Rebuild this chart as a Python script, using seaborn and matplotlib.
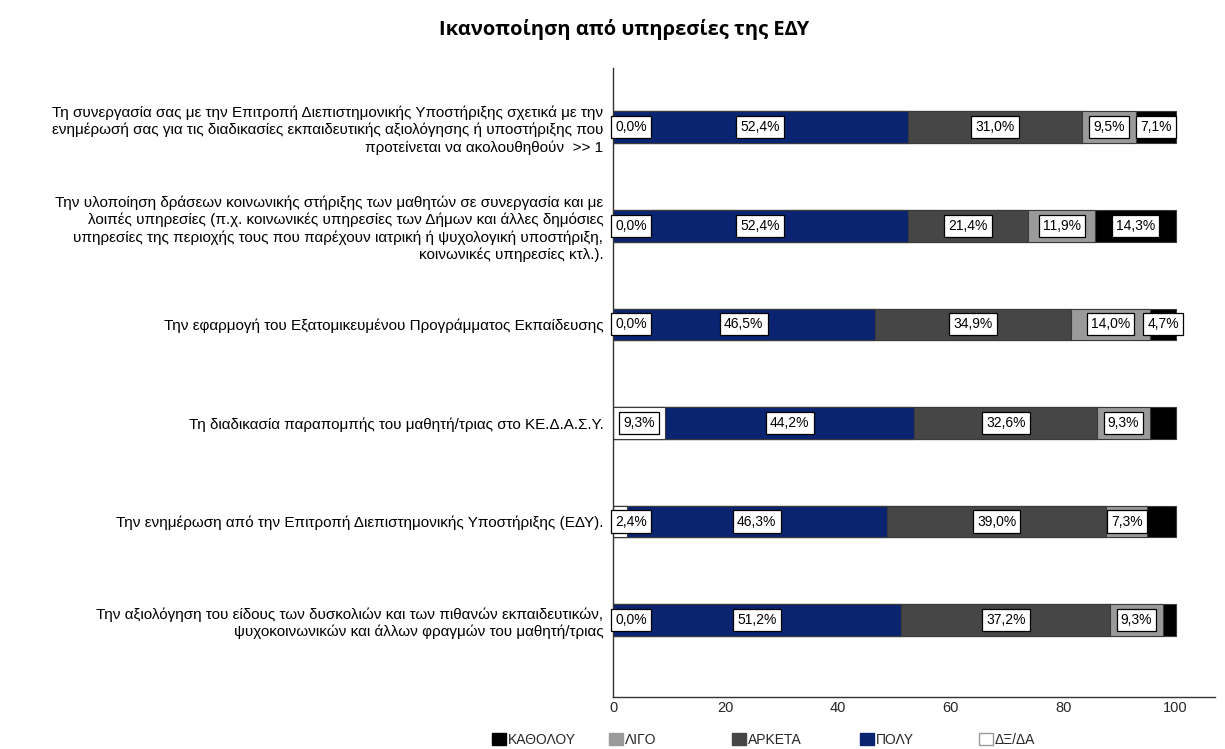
import matplotlib
matplotlib.use("Agg")
import matplotlib.pyplot as plt
from matplotlib.patches import Patch
import seaborn as sns
import pandas as pd
import numpy as np

# ---------------- data ----------------
questions = [
    "Τη συνεργασία σας με την Επιτροπή Διεπιστημονικής Υποστήριξης σχετικά με την\n"
    "ενημέρωσή σας για τις διαδικασίες εκπαιδευτικής αξιολόγησης ή υποστήριξης που\n"
    "προτείνεται να ακολουθηθούν  >> 1",
    "Την υλοποίηση δράσεων κοινωνικής στήριξης των μαθητών σε συνεργασία και με\n"
    "λοιπές υπηρεσίες (π.χ. κοινωνικές υπηρεσίες των Δήμων και άλλες δημόσιες\n"
    "υπηρεσίες της περιοχής τους που παρέχουν ιατρική ή ψυχολογική υποστήριξη,\n"
    "κοινωνικές υπηρεσίες κτλ.).",
    "Την εφαρμογή του Εξατομικευμένου Προγράμματος Εκπαίδευσης",
    "Τη διαδικασία παραπομπής του μαθητή/τριας στο ΚΕ.Δ.Α.Σ.Υ.",
    "Την ενημέρωση από την Επιτροπή Διεπιστημονικής Υποστήριξης (ΕΔΥ).",
    "Την αξιολόγηση του είδους των δυσκολιών και των πιθανών εκπαιδευτικών,\n"
    "ψυχοκοινωνικών και άλλων φραγμών του μαθητή/τριας",
]

# stacking order left -> right
series_names = ["ΔΞ/ΔΑ", "ΠΟΛΥ", "ΑΡΚΕΤΑ", "ΛΙΓΟ", "ΚΑΘΟΛΟΥ"]
dxda    = [0.0, 0.0, 0.0, 9.3, 2.4, 0.0]
poly    = [52.4, 52.4, 46.5, 44.2, 46.3, 51.2]
arketa  = [31.0, 21.4, 34.9, 32.6, 39.0, 37.2]
ligo    = [9.5, 11.9, 14.0, 9.3, 7.3, 9.3]
katholou = [7.1, 14.3, 4.7, 4.6, 5.0, 2.3]
katholou_label_shown = [True, True, True, False, False, False]

legend_order = ["ΚΑΘΟΛΟΥ", "ΛΙΓΟ", "ΑΡΚΕΤΑ", "ΠΟΛΥ", "ΔΞ/ΔΑ"]
title = "Ικανοποίηση από υπηρεσίες της ΕΔΥ"
xticks = [0, 20, 40, 60, 80, 100]

colors = {"ΔΞ/ΔΑ": "#ffffff", "ΠΟΛΥ": "#0a2472", "ΑΡΚΕΤΑ": "#464646",
          "ΛΙΓΟ": "#9a9a9a", "ΚΑΘΟΛΟΥ": "#000000"}

# ---------------- fonts ----------------
base = "Liberation Sans"

sns.set_theme(style="white")
plt.rcParams["font.family"] = [base, "DejaVu Sans"]

values = {"ΔΞ/ΔΑ": dxda, "ΠΟΛΥ": poly, "ΑΡΚΕΤΑ": arketa, "ΛΙΓΟ": ligo, "ΚΑΘΟΛΟΥ": katholou}
df = pd.DataFrame(values)
df["q"] = questions
cum = df[series_names].cumsum(axis=1)

fig = plt.figure(figsize=(12.25, 7.49), dpi=100)
ax = fig.add_axes([613 / 1225, 1 - 697 / 749, (1215 - 613) / 1225, (697 - 68) / 749])

bar_w = 0.32
# draw from the full total down so each earlier segment overlays the later ones
for name in reversed(series_names):
    sns.barplot(x=cum[name], y=df["q"], orient="h", color=colors[name],
                width=bar_w, edgecolor="#3a3a3a", linewidth=0.8, ax=ax,
                saturation=1.0)

# labels
lab_font = dict(fontsize=10, family=[base, "DejaVu Sans"], color="black")
box = dict(boxstyle="square,pad=0.3", fc="white", ec="black", lw=0.9)
for i in range(len(questions)):
    left = 0.0
    for name in series_names:
        v = values[name][i]
        show = True
        if name == "ΚΑΘΟΛΟΥ" and not katholou_label_shown[i]:
            show = False
        if show:
            txt = f"{v:.1f}".replace(".", ",") + "%"
            c = left + v / 2
            if c < 4.0:
                ax.text(0.45, i, txt, ha="left", va="center", bbox=box, **lab_font)
            else:
                ax.text(c, i, txt, ha="center", va="center", bbox=box, **lab_font)
        left += v

ax.set_xlim(0, 107)
ax.set_ylim(5.78, -0.6)
ax.set_xticks(xticks)
ax.set_xticklabels([str(t) for t in xticks], fontsize=10.5, family=[base, "DejaVu Sans"])
ax.tick_params(axis="x", length=0, pad=3)
ax.tick_params(axis="y", length=0, pad=7)
ax.set_xlabel("")
ax.set_ylabel("")
for lbl in ax.get_yticklabels():
    lbl.set_fontfamily([base, "DejaVu Sans"])
    lbl.set_fontsize(11)
    lbl.set_linespacing(1.27)
    lbl.set_multialignment("right")
    lbl.set_color("black")

for s in ["top", "right"]:
    ax.spines[s].set_visible(False)
for s in ["left", "bottom"]:
    ax.spines[s].set_color("#333333")
    ax.spines[s].set_linewidth(1.0)

fig.text(624 / 1225, 1 - 29 / 749, title, ha="center", va="center",
         fontsize=14.5, fontweight="bold", family=["Open Sans", "DejaVu Sans"],
         color="black")

# legend entries at fixed positions
leg_x = [492, 609, 732, 860, 979]
for name, x in zip(legend_order, leg_x):
    h = Patch(facecolor=colors[name], edgecolor="#999999" if name in ("ΔΞ/ΔΑ", "ΛΙΓΟ") else colors[name])
    fig.legend(handles=[h], labels=[name], loc="center left",
               bbox_to_anchor=(x / 1225, 1 - 740 / 749), frameon=False,
               handlelength=1.0, handleheight=1.0, handletextpad=0.15,
               borderpad=0, borderaxespad=0,
               prop={"family": [base, "DejaVu Sans"], "size": 10})

fig.savefig("out.png", dpi=100, facecolor="white")
